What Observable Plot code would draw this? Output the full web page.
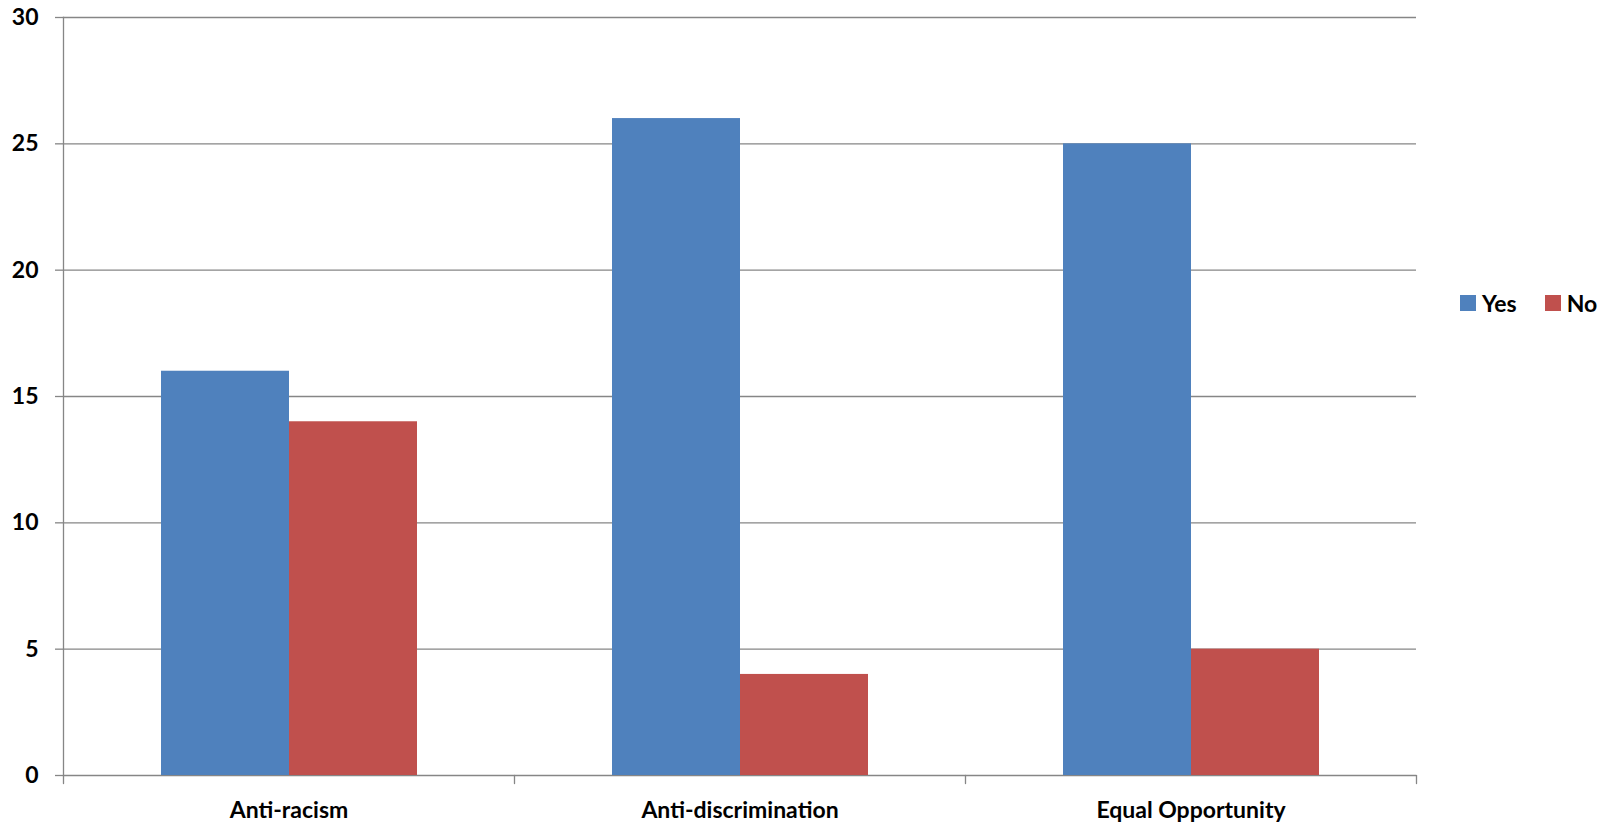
<!DOCTYPE html>
<html>
<head>
<meta charset="utf-8">
<script src="https://cdn.jsdelivr.net/npm/d3@7"></script>
<script src="https://cdn.jsdelivr.net/npm/@observablehq/plot@0.6"></script>
<style>
  html, body { margin: 0; padding: 0; background: #fff; }
  #wrap { position: relative; width: 1615px; height: 825px; font-family: Lato, "Open Sans", sans-serif; }
  #legend { position: absolute; left: 1460px; top: 289px; display: flex; align-items: center; font-weight: bold; font-size: 23px; color: #000; line-height: 28px; }
  .item { display: flex; align-items: center; margin-right: 28px; }
  .sw { width: 16px; height: 16px; margin-right: 6px; }
</style>
</head>
<body>
<div id="wrap"><div id="chart"></div><div id="legend"></div></div>
<script>
const categories = ["Anti-racism", "Anti-discrimination", "Equal Opportunity"];
const series = ["Yes", "No"];
const yesValues = [16, 26, 25];
const noValues = [14, 4, 5];
const yTicks = [0, 5, 10, 15, 20, 25, 30];
const colors = ["#4F81BD", "#C0504D"];

const data = [];
categories.forEach((c, i) => {
  data.push({category: c, series: "Yes", value: yesValues[i]});
  data.push({category: c, series: "No", value: noValues[i]});
});

const gridColor = "#868686";
const tickShape = {draw(context, l) { context.moveTo(0, 0); context.lineTo(0, -l); }};

const chart = Plot.plot({
  width: 1615,
  height: 825,
  marginLeft: 63,
  marginRight: 199,
  marginTop: 17,
  marginBottom: 50,
  style: {fontFamily: "Lato, 'Open Sans', sans-serif", fontWeight: "bold", fontSize: "23px", color: "#000", background: "#fff"},
  fx: {domain: categories, padding: 0},
  x: {domain: series, paddingInner: 0, paddingOuter: 0.75, axis: null},
  y: {domain: [0, 30]},
  color: {domain: series, range: colors},
  marks: [
    Plot.ruleY(yTicks, {stroke: gridColor, strokeWidth: 1.3}),
    Plot.barY(data, {fx: "category", x: "series", y: "value", fill: "series"}),
    Plot.axisY({ticks: yTicks, tickSize: 8, tickPadding: 17, stroke: gridColor, strokeWidth: 1.3, fill: "#000", label: null}),
    Plot.axisFx({anchor: "bottom", tickSize: 0, tickPadding: 26, label: null, fill: "#000"}),
    Plot.frame({anchor: "left", facet: "super", stroke: gridColor, strokeWidth: 1.3}),
    Plot.vector([0], {frameAnchor: "bottom-left", anchor: "start", rotate: 180, length: 8, shape: tickShape, stroke: gridColor, strokeWidth: 1.3}),
    Plot.vector([{c: categories[categories.length - 1]}], {fx: "c", frameAnchor: "bottom-right", anchor: "start", rotate: 180, length: 8, shape: tickShape, stroke: gridColor, strokeWidth: 1.3})
  ]
});
document.getElementById("chart").appendChild(chart);

const legend = document.getElementById("legend");
series.forEach((s, i) => {
  const item = document.createElement("div");
  item.className = "item";
  const sw = document.createElement("div");
  sw.className = "sw";
  sw.style.background = colors[i];
  const t = document.createElement("span");
  t.textContent = s;
  item.appendChild(sw);
  item.appendChild(t);
  legend.appendChild(item);
});
</script>
</body>
</html>
